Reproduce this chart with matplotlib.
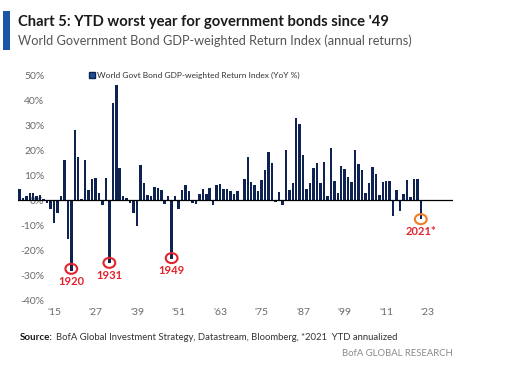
import numpy as np
import matplotlib
matplotlib.use('Agg')
import matplotlib.pyplot as plt
from matplotlib.patches import Ellipse, Rectangle, Patch

plt.rcParams['font.family'] = ['Lato', 'DejaVu Sans']

# annual returns (%), 1905..2021
years = list(range(1905, 2022))
returns = [
    4.5, 1, 1.5, 3, 3, 1.5, 2, 0.5, -1, -3.5,           # 1905-1914
    -9, -5, 1.5, 16, -15.5, -28.5, 28, 17.5, 0.5, 16,   # 1915-1924
    4, 8.5, 9, 3, -2, 9, -25, 39, 46, 13,               # 1925-1934
    1.5, 1, -1, -5, -10.5, 14, 7, 2, 1.5, 5.5,          # 1935-1944
    5, 4, -1.5, 1.5, -23.5, 1.5, -3.5, 4, 6, 3.5,       # 1945-1954
    -1, -1.5, 2.5, 4.5, 2.5, 5, -2, 6, 6.5, 4.5,        # 1955-1964
    4.5, 3.5, 2.5, 3.5, -0.3, 8.5, 17.5, 7.5, 6, 3.5,   # 1965-1974
    8, 12, 19.5, 15, -0.7, 3.3, -2, 20, 4, 7,           # 1975-1984
    33, 30.5, 18, 4.5, 7, 13, 15, 7, 15.5, 1.5,         # 1985-1994
    21, 7.7, 2.8, 13.8, 12.5, 9.4, 7.2, 20.3, 14.7, 12.3,  # 1995-2004
    2.8, 7, 13.4, 10.5, 2.1, 7.2, 7.8, 7.6, -6.2, 4.1,  # 2005-2014
    -4.2, 2.3, 8.1, 1.1, 8.5, 8.6, -7.6,                # 2015-2021
]

tick_years = [1915, 1927, 1939, 1951, 1963, 1975, 1987, 1999, 2011, 2023]
tick_labels = ["'15", "'27", "'39", "'51", "'63", "'75", "'87", "'99", "'11", "'23"]
y_ticks = [-40, -30, -20, -10, 0, 10, 20, 30, 40, 50]

# highlighted years: (year, circle centre, label y, ring colour, label)
marks = [
    (1920, -27.5, -32.7, '#e3232c', '1920'),
    (1931, -25.1, -30.3, '#e3232c', '1931'),
    (1949, -23.2, -28.3, '#e3232c', '1949'),
    (2021, -7.6, -12.7, '#f07d28', '2021*'),
]

navy = '#0e2352'
grey = '#6a6a6a'
red = '#e3232c'

fig = plt.figure(figsize=(5.09, 3.75), dpi=100)
ax = fig.add_axes([18/509, 1-300/375, (453-18)/509, (300-75.5)/375])

ax.bar(years, returns, width=0.72, color=navy, zorder=2)
ax.axhline(0, color='black', lw=0.9, zorder=3)

ax.set_xlim(1904.6, 2030.3)
ax.set_ylim(-40, 50)
ax.set_yticks(y_ticks)
ax.set_yticklabels([f'{v}%' for v in y_ticks], color=grey, fontsize=7.5)
ax.set_xticks(tick_years)
ax.set_xticklabels(tick_labels, color=grey, fontsize=7.5)
ax.tick_params(axis='y', length=0, pad=-19)
ax.tick_params(axis='x', length=0, pad=6)
for lab in ax.get_yticklabels():
    lab.set_horizontalalignment('right')
for s in ax.spines.values():
    s.set_visible(False)
ax.patch.set_alpha(0)

for yr, cy, ly, col, txt in marks:
    ax.add_patch(Ellipse((yr, cy), 3.4, 4.0, fill=False, ec=col, lw=1.5, zorder=4))
    ax.text(yr, ly, txt, color=red, fontsize=8, fontweight='bold',
            ha='center', va='center', zorder=5)

ax.legend(handles=[Patch(fc='#1f4f9a', ec=navy, lw=1)],
          labels=['World Govt Bond GDP-weighted Return Index (YoY %)'],
          loc='upper left', bbox_to_anchor=(68/435, 1.03), frameon=False,
          fontsize=6.0, handlelength=0.7, handleheight=0.7, handletextpad=0.2,
          labelcolor='#333333', borderaxespad=0)

# header
fig.add_artist(Rectangle((3/509, 1-50/375), 7/509, 39/375, transform=fig.transFigure,
                         color='#1a56a5', lw=0))
fig.text(18/509, 1-22/375, "Chart 5: YTD worst year for government bonds since '49",
         fontsize=10.6, fontweight='bold', color='#1a1a1a', va='center')
fig.text(18/509, 1-41/375, 'World Government Bond GDP-weighted Return Index (annual returns)',
         fontsize=9.2, color='#555555', va='center')

# footer
fig.text(20/509, 1-338/375, 'Source:', fontsize=7.0, fontweight='bold', color='#1a1a1a', va='center')
fig.text(56/509, 1-338/375, 'BofA Global Investment Strategy, Datastream, Bloomberg, *2021  YTD annualized',
         fontsize=6.8, color='#333333', va='center')
fig.text(453/509, 1-354/375, 'BofA GLOBAL RESEARCH', fontsize=6.8, color='#8a8a8a',
         ha='right', va='center')

fig.savefig('out.png', dpi=100)
